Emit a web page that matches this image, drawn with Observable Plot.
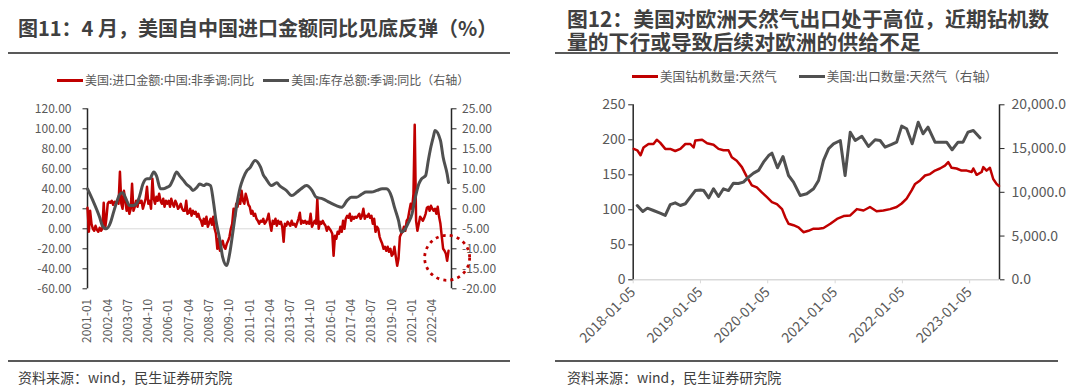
<!DOCTYPE html>
<html><head><meta charset="utf-8">
<script src="https://cdn.jsdelivr.net/npm/d3@7"></script>
<script src="https://cdn.jsdelivr.net/npm/@observablehq/plot@0.6"></script>
<style>
body{margin:0;background:#fff;font-family:"Noto Sans CJK SC","Noto Sans",sans-serif;}
#root{position:relative;width:1080px;height:389px;overflow:hidden;background:#fff;}
.title{position:absolute;font-weight:bold;color:#404040;white-space:nowrap;}
.rule{position:absolute;height:2px;background:#595959;}
.legend{position:absolute;font-size:12px;color:#595959;white-space:nowrap;display:flex;align-items:center;line-height:16px;}
.sw{display:inline-block;width:26px;height:3px;margin-right:2px;}
.cap{position:absolute;font-size:14px;color:#404040;white-space:nowrap;line-height:18px;}
.plot{position:absolute;top:95px;}
</style></head>
<body><div id="root">
  <div class="title" style="left:18px;top:18px;font-size:20px;line-height:20px;">图11：4 月，美国自中国进口金额同比见底反弹（%）</div>
  <div class="rule" style="left:8px;top:52px;width:502px;"></div>
  <div class="legend" style="left:57px;top:72px;"><span class="sw" style="background:#c00000"></span>美国:进口金额:中国:非季调:同比<span style="width:9px;display:inline-block"></span><span class="sw" style="background:#505050"></span>美国:库存总额:季调:同比（右轴）</div>
  <div id="left" class="plot" style="left:0px;"></div>
  <div class="rule" style="left:8px;top:360px;width:502px;"></div>
  <div class="cap" style="left:18px;top:368px;">资料来源：wind，民生证券研究院</div>

  <div class="title" style="left:567px;top:8px;font-size:20.8px;line-height:21px;">图12：美国对欧洲天然气出口处于高位，近期钻机数</div>
  <div class="title" style="left:567px;top:31px;font-size:20.8px;line-height:21px;">量的下行或导致后续对欧洲的供给不足</div>
  <div class="rule" style="left:555px;top:52px;width:503px;"></div>
  <div class="legend" style="left:632px;top:68px;font-size:12.6px;"><span class="sw" style="background:#c00000"></span>美国钻机数量:天然气<span style="width:22px;display:inline-block"></span><span class="sw" style="background:#505050"></span>美国:出口数量:天然气（右轴）</div>
  <div id="right" class="plot" style="left:540px;"></div>
  <div class="rule" style="left:555px;top:360px;width:503px;"></div>
  <div class="cap" style="left:567px;top:368px;">资料来源：wind，民生证券研究院</div>
</div>
<script>
// ---------- Chart 11 data ----------
const importStart = "2001-01";
const importEnd = "2023-05"; // exclusive
// 美国:进口金额:中国:非季调:同比 (%), monthly 2001-01 .. 2023-04
const importYoY = [
  21,-3,18,5,0,-2,3,-1,-3,1,-2,0,
  26,0,10,25,27,26,28,24,27,26,28,25,
  57,25,20,38,28,18,25,15,20,45,18,22,
  28,22,30,26,28,20,25,30,42,25,28,20,
  50,30,25,32,28,35,28,25,30,22,28,25,
  28,22,30,25,22,28,25,20,22,25,20,18,
  18,28,15,16,20,13,18,15,17,12,15,10,
  8,3,10,5,12,2,6,10,4,12,0,-5,
  -20,-10,-22,-15,-12,-18,-20,-15,-12,-8,0,5,
  20,12,25,22,30,25,38,28,25,35,30,24,
  22,15,18,13,15,10,8,5,8,7,10,5,
  7,10,15,5,-2,8,5,10,3,8,5,7,
  2,-13,5,3,7,5,3,8,4,5,2,6,
  10,16,5,8,6,8,5,7,5,15,2,5,
  8,5,30,0,7,5,8,5,3,-2,2,0,
  -2,-5,-27,-7,-10,-3,-5,2,-3,8,0,10,
  13,11,15,8,12,10,12,11,13,15,10,13,
  20,10,13,12,15,11,13,5,10,-3,2,0,
  -8,-12,-15,-20,-18,-22,-18,-23,-20,-27,-25,-18,
  -28,-37,-30,-8,-5,-3,2,-2,8,10,18,25,
  20,35,104,8,-2,5,12,10,8,11,15,21,
  22,18,23,20,18,20,15,22,12,5,-8,-20,
  -22,-25,-32,-22
];
// 美国:库存总额:季调:同比 (%, right axis)
const invMonths = ["2001-01","2001-05","2001-10","2001-12","2002-03","2002-06","2002-08","2002-11","2003-01","2003-03","2003-06","2003-08","2003-11","2004-02","2004-04","2004-06","2004-09","2004-11","2005-02","2005-04","2005-07","2005-09","2005-12","2006-02","2006-04","2006-07","2006-09","2006-12","2007-02","2007-05","2007-07","2007-10","2007-12","2008-03","2008-05","2008-08","2008-10","2008-12","2009-03","2009-05","2009-08","2009-10","2010-01","2010-03","2010-06","2010-08","2010-11","2011-01","2011-05","2011-09","2011-11","2012-01","2012-05","2012-09","2012-11","2013-04","2013-08","2013-12","2014-03","2014-07","2014-11","2015-02","2015-07","2015-12","2016-05","2016-09","2017-01","2017-04","2017-08","2017-12","2018-03","2018-07","2018-11","2019-03","2019-06","2019-10","2019-12","2020-03","2020-05","2020-08","2020-10","2021-01","2021-03","2021-06","2021-08","2021-11","2022-01","2022-03","2022-05","2022-06","2022-10","2022-12","2023-03","2023-04"];
const invYoY = [5.0,2.1,-2.1,-4.2,-5.0,-3.5,-1.2,2.1,3.7,4.0,2.1,0.8,0.8,1.7,3.7,6.2,7.5,7.5,9.2,8.3,5.0,5.0,5.4,5.8,7.1,9.2,8.3,7.1,6.2,5.4,4.6,5.4,6.2,5.8,6.2,5.8,2.1,-2.9,-7.9,-12.1,-14.2,-11.5,-4.6,0.0,5.4,7.5,9.6,10.2,12.1,10.4,8.5,7.5,5.8,6.5,5.8,4.6,3.3,4.2,5.0,5.8,4.6,2.9,2.5,1.6,0.8,0.4,2.1,2.9,2.9,3.7,4.2,4.2,4.6,5.0,5.0,2.9,0.4,-2.9,-5.8,-5.0,-3.7,-1.2,2.1,6.2,7.5,8.3,12.1,15.5,18.3,19.6,17.1,12.9,8.7,6.6];
const leftTicks = [-60,-40,-20,0,20,40,60,80,100,120];
const rightTicksL = [-20,-15,-10,-5,0,5,10,15,20,25];
const xTickLabelsL = ["2001-01","2002-04","2003-07","2004-10","2006-01","2007-04","2008-07","2009-10","2011-01","2012-04","2013-07","2014-10","2016-01","2017-04","2018-07","2019-10","2021-01","2022-04"];
const circleNote = [{date:"2023-03", value:-29}];

// ---------- Chart 12 data ----------
// 美国钻机数量:天然气 (weekly, left axis)
const rigDates = ["2018-01-08","2018-01-27","2018-02-14","2018-03-02","2018-03-29","2018-04-25","2018-05-13","2018-05-31","2018-06-28","2018-07-25","2018-08-21","2018-09-18","2018-10-15","2018-11-11","2018-11-29","2018-12-08","2019-01-14","2019-02-10","2019-03-17","2019-04-13","2019-05-10","2019-06-06","2019-06-24","2019-07-21","2019-08-18","2019-09-14","2019-10-11","2019-11-07","2019-12-04","2020-01-01","2020-01-28","2020-02-24","2020-03-23","2020-04-10","2020-04-27","2020-05-24","2020-06-20","2020-07-17","2020-08-13","2020-09-10","2020-10-07","2020-11-03","2020-12-10","2021-01-15","2021-02-20","2021-03-28","2021-05-03","2021-06-08","2021-07-13","2021-08-18","2021-09-24","2021-10-30","2021-12-05","2022-01-01","2022-01-28","2022-02-25","2022-03-15","2022-04-11","2022-05-08","2022-06-04","2022-07-01","2022-07-28","2022-08-24","2022-09-11","2022-09-29","2022-10-26","2022-11-22","2022-12-20","2023-01-16","2023-01-25","2023-02-12","2023-03-11","2023-03-20","2023-04-07","2023-04-25","2023-05-13","2023-05-31","2023-06-13"];
const rigCount = [187,185,178,189,194,194,200,196,187,187,184,187,194,194,189,199,200,195,193,187,185,185,175,170,161,147,135,132,125,118,111,108,101,89,80,78,75,68,70,73,73,74,80,87,91,92,101,99,104,98,99,101,104,109,116,128,137,142,149,151,156,159,163,168,160,159,156,156,154,159,150,154,161,156,160,144,137,134];
// 美国:出口数量:天然气 (monthly, right axis)
const expDates = ["2018-01-27","2018-02-26","2018-03-23","2018-04-25","2018-05-31","2018-06-28","2018-07-25","2018-08-21","2018-09-18","2018-10-15","2018-11-11","2018-12-08","2019-01-05","2019-01-23","2019-02-19","2019-03-17","2019-04-13","2019-05-10","2019-06-06","2019-07-03","2019-07-30","2019-08-26","2019-09-23","2019-10-20","2019-11-16","2019-12-13","2020-01-10","2020-01-28","2020-02-27","2020-03-28","2020-04-27","2020-05-24","2020-06-29","2020-08-04","2020-09-10","2020-10-07","2020-11-03","2020-11-30","2020-12-27","2021-02-02","2021-02-28","2021-03-28","2021-04-24","2021-05-30","2021-07-05","2021-08-10","2021-09-06","2021-10-03","2021-11-08","2021-12-05","2022-01-01","2022-01-28","2022-02-27","2022-04-01","2022-04-27","2022-05-24","2022-07-01","2022-08-06","2022-09-02","2022-10-02","2022-11-03","2022-11-30","2022-12-27","2023-01-25","2023-03-02"];
const expVolume = [8490,7800,8190,7920,7620,7350,8600,8800,8490,8690,9440,10200,10270,10200,9370,10400,9520,10400,10200,11040,11000,11160,11730,12190,12500,13440,14200,14470,12800,14090,11920,11160,9640,9830,10400,11350,13640,14970,15540,15920,11920,16870,15920,16410,15230,16000,15920,15160,15470,15730,17560,17260,15540,18010,16690,17440,15730,15730,15730,14860,15730,15730,16870,17060,16230];
const rigTicks = [0,50,100,150,200,250];
const expTicks = [0,5000,10000,15000,20000];
const xTickLabelsR = ["2018-01-05","2019-01-05","2020-01-05","2021-01-05","2022-01-05","2023-01-05"];

// ---------- helpers ----------
const FONT = '"Noto Sans CJK SC","Noto Sans",sans-serif';
const pm = d3.utcParse("%Y-%m");
const pd = d3.utcParse("%Y-%m-%d");
const RED = "#c00000", GRAY = "#505050", AX = "#262626", LBL = "#595959";

// ---------- Chart 11 ----------
const importDates = d3.utcMonth.range(pm(importStart), pm(importEnd));
const importData = importDates.map((d,i)=>({date:d, value:importYoY[i]}));
const invData = invMonths.map((m,i)=>({date:pm(m), value:invYoY[i]}));
const r2l = v => 4*v + 20; // right axis (-20..25) onto left axis (-60..120)
const l2r = v => (v - 20)/4;
const xDomL = [pm("2001-01"), new Date(Date.UTC(2023,5,7))];

const left = Plot.plot({
  width:540, height:265, marginLeft:87, marginRight:89, marginTop:13.3, marginBottom:71.7,
  x:{type:"utc", domain:xDomL, axis:null},
  y:{domain:[-60,120], axis:null},
  style:{fontFamily:FONT, fontSize:"12px", background:"transparent", overflow:"visible"},
  marks:[
    Plot.ruleY([0], {stroke:"#d9d9d9", strokeWidth:1}),
    Plot.ruleX([xDomL[0]], {stroke:AX, strokeWidth:1.5}),
    Plot.ruleX([xDomL[1]], {stroke:AX, strokeWidth:1.5}),
    Plot.axisY({ticks:leftTicks, tickSize:4.5, tickFormat:()=>"", color:AX, label:null}),
    Plot.axisY({ticks:leftTicks, tickSize:0, tickPadding:16, tickFormat:d=>d.toFixed(2), color:LBL, label:null}),
    Plot.axisY({anchor:"right", ticks:rightTicksL.map(r2l), tickSize:4.5, tickFormat:()=>"", color:AX, label:null}),
    Plot.axisY({anchor:"right", ticks:rightTicksL.map(r2l), tickSize:0, tickPadding:10.5, tickFormat:d=>l2r(d).toFixed(2), color:LBL, label:null}),
    Plot.axisX({ticks:xTickLabelsL.map(pm), tickSize:0, tickPadding:10, tickRotate:-90, tickFormat:d3.utcFormat("%Y-%m"), color:LBL, label:null}),
    Plot.line(importData, {x:"date", y:"value", stroke:RED, strokeWidth:2.5, strokeLinejoin:"round"}),
    Plot.line(invData, {x:"date", y:d=>r2l(d.value), stroke:GRAY, strokeWidth:3, curve:"monotone-x", strokeLinejoin:"round"}),
    Plot.dot(circleNote, {x:d=>pm(d.date), y:"value", r:22.5, stroke:RED, strokeWidth:2.8, strokeDasharray:"3 4.2", fill:"none"})
  ]
});
document.getElementById("left").appendChild(left);

// ---------- Chart 12 ----------
const rigData = rigDates.map((d,i)=>({date:pd(d), value:rigCount[i]}));
const expData = expDates.map((d,i)=>({date:pd(d), value:expVolume[i]}));
const e2l = v => v/80; // right axis (0..20000) onto left (0..250)
const xDomR = [pd("2018-01-05"), pd("2023-06-16")];

const right = Plot.plot({
  width:540, height:265, marginLeft:92.7, marginRight:81, marginTop:9.3, marginBottom:80.7,
  x:{type:"utc", domain:xDomR, axis:null},
  y:{domain:[0,250], axis:null},
  style:{fontFamily:FONT, fontSize:"14px", background:"transparent", overflow:"visible"},
  marks:[
    Plot.ruleY([0], {stroke:"#d9d9d9", strokeWidth:1.5}),
    Plot.axisX({ticks:xTickLabelsR.map(pd), tickSize:4, tickFormat:()=>"", color:"#d9d9d9", label:null}),
    Plot.axisX({ticks:xTickLabelsR.map(pd), tickSize:0, tickPadding:10, tickRotate:-45, tickFormat:d3.utcFormat("%Y-%m-%d"), color:LBL, label:null}),
    Plot.ruleX([xDomR[0]], {stroke:AX, strokeWidth:1.5}),
    Plot.ruleX([xDomR[1]], {stroke:AX, strokeWidth:1.5}),
    Plot.axisY({ticks:rigTicks, tickSize:4.5, tickFormat:()=>"", color:AX, label:null}),
    Plot.axisY({ticks:rigTicks, tickSize:0, tickPadding:7.7, tickFormat:d3.format("d"), color:LBL, label:null}),
    Plot.axisY({anchor:"right", ticks:expTicks.map(e2l), tickSize:4.5, tickFormat:()=>"", color:AX, label:null}),
    Plot.axisY({anchor:"right", ticks:expTicks.map(e2l), tickSize:0, tickPadding:12, tickFormat:d=>d3.format(",.1f")(d*80), color:LBL, label:null}),
    Plot.line(rigData, {x:"date", y:"value", stroke:RED, strokeWidth:2.5, strokeLinejoin:"round"}),
    Plot.line(expData, {x:"date", y:d=>e2l(d.value), stroke:GRAY, strokeWidth:3, strokeLinejoin:"round"})
  ]
});
document.getElementById("right").appendChild(right);
</script>
</body></html>
